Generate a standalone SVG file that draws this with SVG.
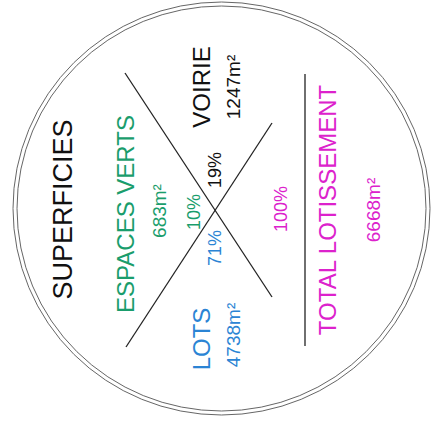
<svg xmlns="http://www.w3.org/2000/svg" width="432" height="432" viewBox="0 0 432 432">
<style>
text{font-family:"Liberation Sans",Arial,sans-serif;text-anchor:middle}
.big{font-size:24px}
.sm{font-size:19px}
.blk{fill:#111}
.grn{fill:#1a9d6c}
.blu{fill:#2b84d4}
.mag{fill:#dc22cc}
.ln{stroke:#222;stroke-width:1.3;fill:none}
.ring{stroke:#666;stroke-width:1;fill:none}
</style>
<rect width="432" height="432" fill="#fff"/>
<g id="border">
<ellipse class="ring" cx="221.5" cy="208.5" rx="208.5" ry="206.5"/>
<ellipse class="ring" cx="221.5" cy="208.5" rx="204.5" ry="202.5"/>
</g>
<g id="connectors">
<line class="ln" x1="125" y1="73" x2="272" y2="297"/>
<line class="ln" x1="126" y1="347" x2="272" y2="123"/>
<line class="ln" x1="305" y1="74" x2="305" y2="346"/>
</g>
<g id="title">
<text transform="translate(72,209.5) rotate(-90)" style="font-size:27px" class="blk">SUPERFICIES</text>
</g>
<g id="espaces-verts">
<text transform="translate(134,214) rotate(-90)" class="big grn">ESPACES VERTS</text>
<text transform="translate(166,211) rotate(-90)" class="sm grn">683m²</text>
<text transform="translate(200,212) rotate(-90)" style="font-size:18px" class="grn">10%</text>
</g>
<g id="voirie">
<text transform="translate(210,87) rotate(-90)" class="big blk">VOIRIE</text>
<text transform="translate(240,87) rotate(-90)" class="sm blk">1247m²</text>
<text transform="translate(221,170) rotate(-90)" style="font-size:18px" class="blk">19%</text>
</g>
<g id="lots">
<text transform="translate(210,339) rotate(-90)" class="big blu">LOTS</text>
<text transform="translate(240,335) rotate(-90)" class="sm blu">4738m²</text>
<text transform="translate(221,248) rotate(-90)" style="font-size:18px" class="blu">71%</text>
</g>
<g id="total">
<text transform="translate(287,209) rotate(-90)" style="font-size:18px" class="mag">100%</text>
<text transform="translate(336,210) rotate(-90)" class="big mag">TOTAL LOTISSEMENT</text>
<text transform="translate(380,210) rotate(-90)" class="sm mag">6668m²</text>
</g>
</svg>
